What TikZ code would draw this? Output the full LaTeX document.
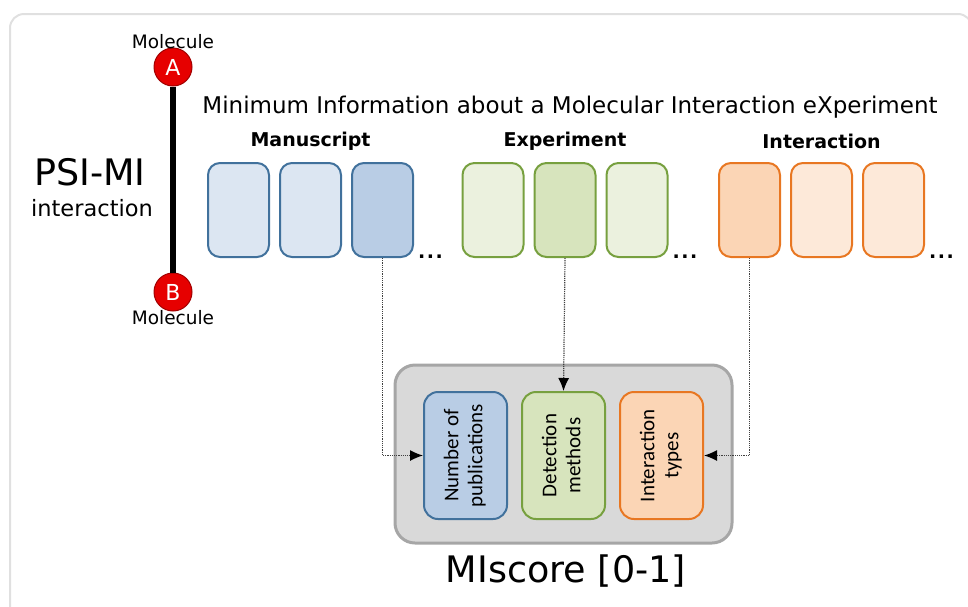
\documentclass[tikz,border=0pt]{standalone}
\usepackage{fontspec}
\setmainfont{DejaVu Sans}
\newfontfamily\boxfont{Carlito}
\usepackage{xcolor}
\usepackage{graphicx}
\usetikzlibrary{positioning,arrows.meta}
\definecolor{msBlue}{HTML}{41719C}
\definecolor{msBlueLight}{HTML}{DCE6F2}
\definecolor{msBlueMid}{HTML}{B9CDE5}
\definecolor{exGreen}{HTML}{77A03F}
\definecolor{exGreenLight}{HTML}{EBF1DE}
\definecolor{exGreenMid}{HTML}{D7E4BD}
\definecolor{inOrange}{HTML}{E87722}
\definecolor{inOrangeLight}{HTML}{FDE9D9}
\definecolor{inOrangeMid}{HTML}{FBD5B5}
\definecolor{molRed}{HTML}{E60000}
\newcommand{\upright}[1]{\rotatebox{90}{\begin{tabular}{@{}c@{}}#1\end{tabular}}}
\tikzset{
    field-box/.style = {rectangle, rounded corners=12pt, line width=2pt, minimum width=61pt, minimum height=94pt, inner sep=0pt},
    score-box/.style = {rectangle, rounded corners=14pt, line width=2pt, minimum width=83pt, minimum height=127pt, inner sep=0pt, font=\boxfont\fontsize{21}{24}\selectfont},
    group-title/.style = {font=\bfseries\fontsize{19}{22}\selectfont},
    more-dots/.style = {font=\bfseries\fontsize{19}{20}\selectfont, inner sep=0pt},
    molecule/.style = {circle, fill=molRed, draw=molRed!70!black, line width=1pt, minimum size=38pt, inner sep=0pt, text=white, font=\fontsize{22}{22}\selectfont},
    mol-label/.style = {font=\fontsize{18.5}{19}\selectfont, inner sep=1pt},
    link/.style = {densely dotted, line width=1.2pt, draw=black!75, -{Latex[length=13pt,width=11pt,black]}},
}
\begin{document}
\begin{tikzpicture}[x=1pt,y=-1pt]
\useasboundingbox (0,0) rectangle (968,606);
% frame
\draw[black!12, line width=2pt, rounded corners=14pt] (10,620) -- (10,14) -- (972,14) -- (972,620);

% PSI-MI interaction
\node[molecule] (atomA) at (173,67) {A};
\node[molecule] (atomB) at (173,292) {B};
\draw[line width=6pt] (atomA) -- (atomB);
\node[mol-label, above=-2pt of atomA] (molA) {Molecule};
\node[mol-label, below=-2pt of atomB] (molB) {Molecule};
\node[font=\fontsize{36.5}{40}\selectfont] (psimi) at (90,172) {PSI-MI};
\node[font=\fontsize{22.5}{26}\selectfont] (psiint) at (92,208) {interaction};

\node[font=\fontsize{23}{26}\selectfont] (mimix) at (570,107) {Minimum Information about a Molecular Interaction eXperiment};

% Manuscript
\node[field-box, draw=msBlue, fill=msBlueLight] (m1) at (238.5,210) {};
\node[field-box, draw=msBlue, fill=msBlueLight, right=9pt of m1] (m2) {};
\node[field-box, draw=msBlue, fill=msBlueMid, right=9pt of m2] (m3) {};
\node[more-dots, right=4pt of m3.south east, anchor=base west] (mdots) {.\kern1.5pt.\kern1.5pt.};
\node[group-title] (mtitle) at (m2 |- 0,141) {Manuscript};

% Experiment
\node[field-box, draw=exGreen, fill=exGreenLight] (e1) at (493,210) {};
\node[field-box, draw=exGreen, fill=exGreenMid, right=9pt of e1] (e2) {};
\node[field-box, draw=exGreen, fill=exGreenLight, right=9pt of e2] (e3) {};
\node[more-dots, right=4pt of e3.south east, anchor=base west] (edots) {.\kern1.5pt.\kern1.5pt.};
\node[group-title] (etitle) at (e2 |- 0,141) {Experiment};

% Interaction
\node[field-box, draw=inOrange, fill=inOrangeMid] (i1) at (749.5,210) {};
\node[field-box, draw=inOrange, fill=inOrangeLight, right=9pt of i1] (i2) {};
\node[field-box, draw=inOrange, fill=inOrangeLight, right=9pt of i2] (i3) {};
\node[more-dots, right=4pt of i3.south east, anchor=base west] (idots) {.\kern1.5pt.\kern1.5pt.};
\node[group-title] (ititle) at (i2 |- 0,141) {Interaction};

% MIscore
\node[rectangle, rounded corners=20pt, draw=black!35, fill=black!15, line width=3pt, minimum width=337pt, minimum height=178pt] (score) at (563.5,454) {};
\node[score-box, draw=msBlue, fill=msBlueMid] (pubs) at (465.5,455.5) {\upright{Number of\\publications}};
\node[score-box, draw=exGreen, fill=exGreenMid] (det) at (563.5,455.5) {\upright{Detection\\methods}};
\node[score-box, draw=inOrange, fill=inOrangeMid] (types) at (661.5,455.5) {\upright{Interaction\\types}};
\node[font=\fontsize{36.5}{40}\selectfont] (mscore) at (566,571) {MIscore [0-1]};

\draw[link] (m3.south) |- (pubs.west);
\draw[link] (e2.south) -- (det.north);
\draw[link] (i1.south) |- (types.east);
\end{tikzpicture}
\end{document}
